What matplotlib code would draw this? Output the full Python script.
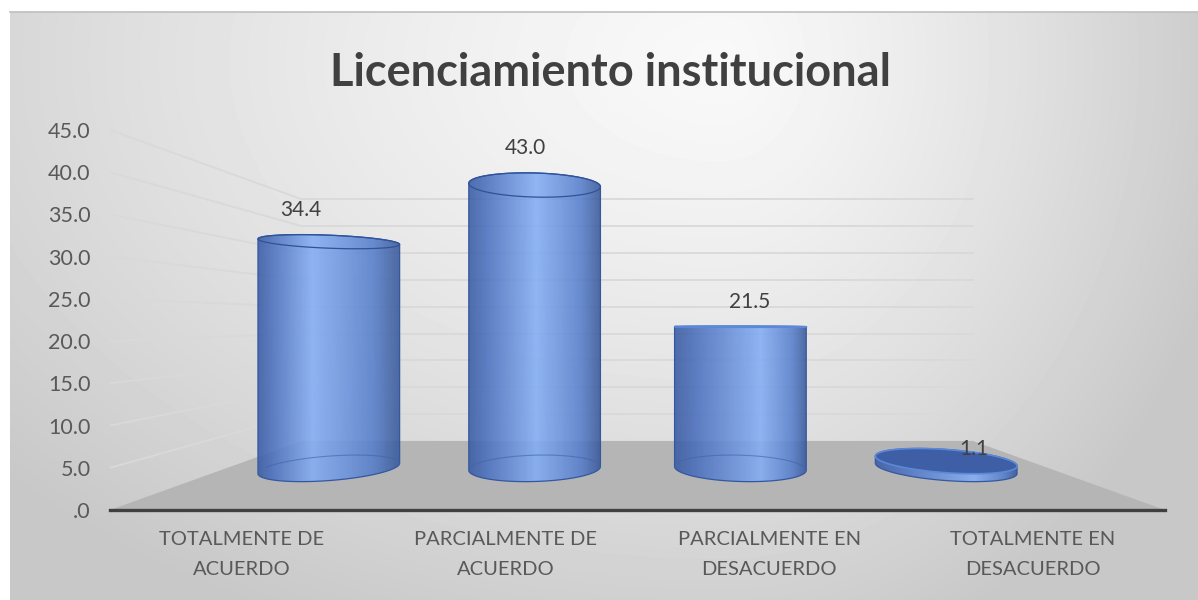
import matplotlib.pyplot as plt
import numpy as np
from matplotlib.colors import LinearSegmentedColormap
from matplotlib.patches import Polygon

# --- Data ---
categories = [
    "TOTALMENTE DE\nACUERDO",
    "PARCIALMENTE DE\nACUERDO",
    "PARCIALMENTE EN\nDESACUERDO",
    "TOTALMENTE EN\nDESACUERDO",
]
values = [34.4, 43.0, 21.5, 1.1]
y_ticks = [0, 5, 10, 15, 20, 25, 30, 35, 40, 45]
title = "Licenciamiento institucional"

# --- Style ---
plt.rcParams.update({"font.family": ["Lato", "DejaVu Sans"]})
TEXT = "#404040"
TICK = "#595959"
GRID = "#d9d9d9"
FLOOR = "#b5b5b5"
BAR_CMAP = LinearSegmentedColormap.from_list(
    "cyl",
    [(0.0, "#3a5ca3"), (0.12, "#4a6fbd"), (0.5, "#84aef4"), (0.85, "#567ecb"), (1.0, "#385898")],
)

# --- 3D view (front-plane units: x = category index, y = value) ---
FOCAL = 2.74
VP_X = (len(categories) - 1) / 2
VP_Y = 22.45
DEPTH = 1.57
BAR_DEPTH = 0.80
BAR_R = 0.318


def proj(x, v, w):
    """Perspective projection of (x, value, depth) onto the front plane."""
    s = FOCAL / (FOCAL + np.asarray(w, dtype=float))
    return VP_X + (np.asarray(x) - VP_X) * s, VP_Y + (np.asarray(v) - VP_Y) * s


def convex_hull(pts):
    pts = sorted(map(tuple, pts))

    def cross(o, a, b):
        return (a[0] - o[0]) * (b[1] - o[1]) - (a[1] - o[1]) * (b[0] - o[0])

    lower, upper = [], []
    for p in pts:
        while len(lower) >= 2 and cross(lower[-2], lower[-1], p) <= 0:
            lower.pop()
        lower.append(p)
    for p in reversed(pts):
        while len(upper) >= 2 and cross(upper[-2], upper[-1], p) <= 0:
            upper.pop()
        upper.append(p)
    return np.array(lower[:-1] + upper[:-1])


def draw_cylinder(ax, i, value):
    theta = np.linspace(0, 2 * np.pi, 241)
    cx = i + BAR_R * np.cos(theta)
    cw = BAR_DEPTH + BAR_R * np.sin(theta)
    bx, by = proj(cx, 0, cw)
    tx, ty = proj(cx, value, cw)
    hull = convex_hull(np.column_stack([np.r_[bx, tx], np.r_[by, ty]]))

    body = Polygon(hull, closed=True, facecolor="none", edgecolor="#3458a0", lw=0.9, zorder=4)
    ax.add_patch(body)

    # horizontal shading, highlight shifted with the view angle
    x0, x1 = hull[:, 0].min(), hull[:, 0].max()
    fx, _ = proj(i, 0, BAR_DEPTH - BAR_R)
    hl = np.clip(0.5 + (fx - (x0 + x1) / 2) / (x1 - x0) + 0.08, 0.3, 0.7)
    u = np.linspace(0, 1, 200)
    shade = np.interp(u, [0, hl, 1], [0, 0.5, 1])
    img = ax.imshow(
        shade[None, :], cmap=BAR_CMAP, vmin=0, vmax=1, aspect="auto", alpha=0.88,
        extent=(x0, x1, hull[:, 1].min(), hull[:, 1].max()), zorder=3,
    )
    img.set_clip_path(body)

    # back half of the bottom rim, seen through the bar
    back = np.sin(theta) > 0
    ax.plot(bx[back], by[back], color="#3d63ae", lw=0.8, alpha=0.6, zorder=4)

    # top cap
    if value < VP_Y:
        top = Polygon(np.column_stack([tx, ty]), closed=True, facecolor="#3e5fa6",
                      edgecolor="#5b88d8", lw=1.2, zorder=5)
    else:
        top = Polygon(np.column_stack([tx, ty]), closed=True, facecolor="none",
                      edgecolor="#2f529a", lw=0.9, zorder=5)
    ax.add_patch(top)


# --- Figure ---
fig = plt.figure(figsize=(11.98, 6.0), dpi=100)

# chart area background (radial grey gradient)
bg = fig.add_axes([0, 0, 1, 1], zorder=-10)
bg.set_xlim(0, 1198)
bg.set_ylim(600, 0)
bg.axis("off")
gx, gy = np.meshgrid(np.arange(10, 1198), np.arange(12, 600))
dx = (gx - 720) / np.where(gx > 720, 520, 950)
dy = (gy - 60) / 620
d = np.clip(np.hypot(dx, dy), 0, 1)
inten = 0.975 - 0.19 * d ** 1.3
bg.imshow(inten, cmap="gray", vmin=0, vmax=1, extent=(10, 1198, 600, 12), aspect="auto")
bg.plot([10, 1198], [12, 12], color="#bfbfbf", lw=1.2)

ax = fig.add_axes([110 / 1198, 90 / 600, 1055 / 1198, 380 / 600])
ax.patch.set_visible(False)
n = len(categories)

# floor
corners = [(-0.5, 0), (n - 0.5, 0), (n - 0.5, DEPTH), (-0.5, DEPTH)]
fx, fy = proj([c[0] for c in corners], 0, [c[1] for c in corners])
ax.add_patch(Polygon(np.column_stack([fx, fy]), closed=True, facecolor=FLOOR, edgecolor="none", zorder=1))

# gridlines on back wall and left wall
for t in y_ticks[1:]:
    gx_, gy_ = proj([-0.5, n - 0.5], t, [DEPTH, DEPTH])
    ax.plot(gx_, gy_, color=GRID, lw=1.3, zorder=0.5)
    lx_, ly_ = proj([-0.5, -0.5], t, [0, DEPTH])
    ax.plot(lx_, ly_, color=GRID, lw=1.3, zorder=0.5)

for i, v in enumerate(values):
    draw_cylinder(ax, i, v)
    lx, ly = proj(i, v, BAR_DEPTH - BAR_R)
    ax.annotate(f"{v:.1f}", xy=(lx, ly), xytext=(0, 18), textcoords="offset points",
                ha="center", va="center", fontsize=15, color=TEXT, zorder=10)

ax.set_xlim(-0.5, n - 0.5)
ax.set_ylim(0, 45)
ax.set_xticks(range(n))
ax.set_xticklabels(categories, fontsize=14.5, color=TICK, linespacing=1.95)
ax.set_yticks(y_ticks)
ax.set_yticklabels([f"{t:.1f}".lstrip("0") if t == 0 else f"{t:.1f}" for t in y_ticks],
                   fontsize=15.5, color=TICK)
ax.tick_params(axis="both", length=0)
ax.tick_params(axis="y", pad=14)
ax.tick_params(axis="x", pad=15)
for side in ("top", "right", "left"):
    ax.spines[side].set_visible(False)
ax.spines["bottom"].set_color(TEXT)
ax.spines["bottom"].set_linewidth(2.4)
ax.spines["bottom"].set_zorder(6)

fig.text(610 / 1198, 1 - 73 / 600, title, ha="center", va="center",
         fontsize=32.5, fontweight="bold", color=TEXT)

fig.savefig("out.png", dpi=100)
